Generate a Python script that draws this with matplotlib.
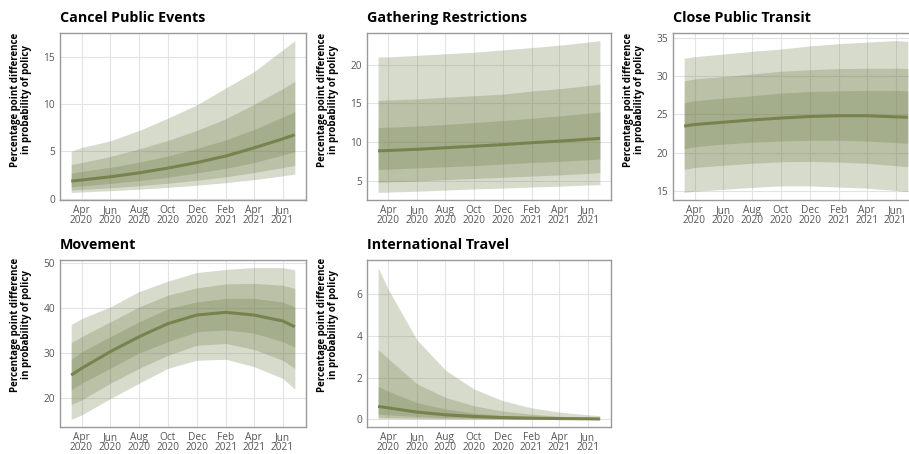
import numpy as np
import pandas as pd
import matplotlib
matplotlib.use("Agg")
import matplotlib.pyplot as plt
import matplotlib.dates as mdates

plt.rcParams['font.family'] = ['Open Sans', 'DejaVu Sans']

# time points
dates = pd.to_datetime(['2020-03-10', '2020-04-01', '2020-06-01', '2020-08-01', '2020-10-01',
                        '2020-12-01', '2021-02-01', '2021-04-01', '2021-06-01', '2021-06-27'])

titles = ['Cancel Public Events', 'Gathering Restrictions', 'Close Public Transit',
          'Movement', 'International Travel']

# Cancel Public Events
cancel_mid = [1.85, 1.96, 2.3, 2.72, 3.22, 3.8, 4.5, 5.35, 6.3, 6.75]
cancel_50 = ([1.25, 1.33, 1.6, 1.9, 2.25, 2.7, 3.2, 3.8, 4.6, 4.95],
             [2.7, 2.87, 3.3, 3.85, 4.5, 5.3, 6.2, 7.3, 8.6, 9.2])
cancel_80 = ([0.9, 0.96, 1.14, 1.36, 1.62, 1.93, 2.3, 2.75, 3.27, 3.5],
             [3.6, 3.8, 4.45, 5.25, 6.15, 7.2, 8.45, 9.95, 11.6, 12.4])
cancel_95 = ([0.65, 0.69, 0.83, 0.99, 1.18, 1.41, 1.68, 2.0, 2.4, 2.6],
             [5.0, 5.4, 6.1, 7.2, 8.5, 9.9, 11.7, 13.4, 15.7, 16.7])

# Gathering Restrictions
gather_mid = [8.9, 8.95, 9.1, 9.3, 9.5, 9.7, 9.95, 10.15, 10.4, 10.5]
gather_50 = ([6.5, 6.55, 6.7, 6.85, 7.0, 7.2, 7.4, 7.55, 7.75, 7.85],
             [11.9, 11.95, 12.1, 12.3, 12.55, 12.8, 13.1, 13.4, 13.75, 13.9])
gather_80 = ([4.85, 4.9, 5.0, 5.2, 5.35, 5.5, 5.65, 5.8, 6.0, 6.1],
             [15.4, 15.45, 15.6, 15.8, 16.0, 16.2, 16.6, 16.9, 17.3, 17.5])
gather_95 = ([3.55, 3.6, 3.7, 3.85, 4.0, 4.1, 4.25, 4.35, 4.5, 4.55],
             [21.0, 21.0, 21.2, 21.4, 21.6, 21.9, 22.2, 22.5, 22.9, 23.1])

# Close Public Transit
transit_mid = [23.45, 23.65, 23.95, 24.25, 24.5, 24.7, 24.8, 24.8, 24.65, 24.6]
transit_50 = ([20.5, 20.75, 21.1, 21.35, 21.5, 21.6, 21.6, 21.5, 21.3, 21.2],
              [26.5, 26.75, 27.1, 27.4, 27.75, 27.95, 28.05, 28.1, 28.1, 28.05])
transit_80 = ([17.8, 18.05, 18.35, 18.6, 18.8, 18.85, 18.75, 18.6, 18.3, 18.15],
              [29.35, 29.6, 29.9, 30.25, 30.6, 30.8, 30.95, 31.0, 31.0, 30.95])
transit_95 = ([14.8, 14.95, 15.2, 15.45, 15.65, 15.65, 15.5, 15.35, 15.05, 14.9],
              [32.3, 32.5, 32.85, 33.2, 33.5, 33.9, 34.2, 34.4, 34.6, 34.5])

# Movement
move_mid = [25.1, 26.6, 30.3, 33.6, 36.5, 38.4, 39.0, 38.4, 37.1, 35.8]
move_50 = ([21.8, 23.3, 26.6, 30.0, 32.5, 34.7, 35.1, 34.4, 32.5, 31.3],
           [28.6, 30.3, 33.6, 36.9, 39.8, 41.3, 42.1, 42.1, 41.3, 40.2])
move_80 = ([18.6, 19.6, 23.3, 26.6, 29.5, 31.7, 32.1, 30.8, 28.4, 26.6],
           [32.3, 33.6, 36.9, 40.2, 42.8, 44.4, 45.3, 45.4, 45.0, 44.3])
move_95 = ([15.3, 16.3, 19.9, 23.3, 26.6, 28.4, 28.6, 27.0, 24.4, 22.0],
           [36.3, 37.6, 40.2, 43.6, 45.9, 47.8, 48.5, 48.9, 48.9, 48.4])

# International Travel
travel_mid = [0.62, 0.55, 0.35, 0.22, 0.14, 0.09, 0.06, 0.04, 0.03, 0.02]
travel_50 = ([0.25, 0.22, 0.14, 0.09, 0.06, 0.04, 0.03, 0.02, 0.01, 0.01],
             [1.58, 1.35, 0.8, 0.5, 0.3, 0.18, 0.11, 0.07, 0.05, 0.04])
travel_80 = ([0.1, 0.09, 0.06, 0.04, 0.03, 0.02, 0.01, 0.01, 0.0, 0.0],
             [3.33, 2.9, 1.7, 1.05, 0.65, 0.4, 0.25, 0.15, 0.1, 0.08])
travel_95 = ([0.03, 0.03, 0.02, 0.01, 0.01, 0.0, 0.0, 0.0, 0.0, 0.0],
             [7.25, 6.2, 3.8, 2.35, 1.45, 0.9, 0.55, 0.35, 0.22, 0.18])

panels = [
    (cancel_mid, [cancel_95, cancel_80, cancel_50], [0, 5, 10, 15]),
    (gather_mid, [gather_95, gather_80, gather_50], [5, 10, 15, 20]),
    (transit_mid, [transit_95, transit_80, transit_50], [15, 20, 25, 30, 35]),
    (move_mid, [move_95, move_80, move_50], [20, 30, 40, 50]),
    (travel_mid, [travel_95, travel_80, travel_50], [0, 2, 4, 6]),
]

W, H = 909, 454
# axes boxes in pixels: left, top, right, bottom
boxes = [(60, 33, 306, 200), (367, 33, 611, 200), (673, 33, 919, 200),
         (60, 260, 306, 427), (367, 260, 611, 427)]
ylab_pos = [(21, 100), (328, 100), (634, 100), (21, 325), (328, 325)]

band_col = '#6e7b46'
line_col = '#77834f'

fig = plt.figure(figsize=(W / 100, H / 100), dpi=100)

for i, (mid, bands, yticks) in enumerate(panels):
    l, t, r, b = boxes[i]
    ax = fig.add_axes([l / W, 1 - b / H, (r - l) / W, (b - t) / H])
    ax.set_axisbelow(True)
    for lo, hi in bands:
        ax.fill_between(dates, lo, hi, color=band_col, alpha=0.27, lw=0)
    ax.plot(dates, mid, color=line_col, lw=2.2, solid_capstyle='butt')
    ax.margins(x=0.05, y=0.05)

    ax.xaxis.set_major_locator(mdates.MonthLocator(bymonth=[2, 4, 6, 8, 10, 12]))
    ax.xaxis.set_major_formatter(mdates.DateFormatter('%b\n%Y'))
    ax.set_yticks(yticks)
    ax.tick_params(length=0, labelsize=7.3, labelcolor='#555555')
    ax.tick_params(axis='x', pad=3.5)
    ax.tick_params(axis='y', pad=3.5)
    for lab in ax.get_xticklabels():
        lab.set_linespacing(0.95)
    ax.grid(True, color='#e3e3e3', lw=0.8)
    for sp in ax.spines.values():
        sp.set_color('#999999')
        sp.set_linewidth(1.0)

    ax.set_title(titles[i], loc='left', fontsize=10.3, fontweight='bold', pad=8)
    lx, ly = ylab_pos[i]
    fig.text(lx / W, 1 - ly / H, 'Percentage point difference\nin probability of policy',
             rotation=90, ha='center', va='center', multialignment='center',
             fontsize=7.0, fontweight='bold', linespacing=1.0)

fig.savefig('out.png', dpi=100)
